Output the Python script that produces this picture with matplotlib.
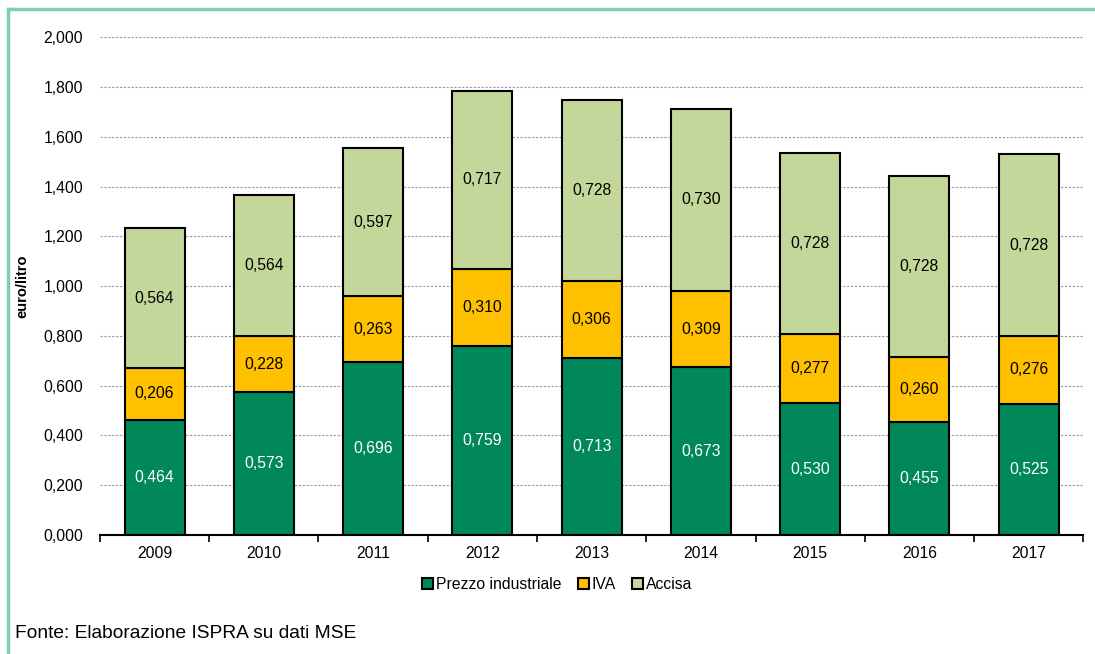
import matplotlib.pyplot as plt
import numpy as np
from matplotlib.lines import Line2D

plt.rcParams['font.family'] = ['Liberation Sans', 'DejaVu Sans']

anni = ["2009", "2010", "2011", "2012", "2013", "2014", "2015", "2016", "2017"]
prezzo = [0.464, 0.573, 0.696, 0.759, 0.713, 0.673, 0.530, 0.455, 0.525]
iva = [0.206, 0.228, 0.263, 0.310, 0.306, 0.309, 0.277, 0.260, 0.276]
accisa = [0.564, 0.564, 0.597, 0.717, 0.728, 0.730, 0.728, 0.728, 0.728]

col_prezzo = "#00875A"
col_iva = "#FFC000"
col_accisa = "#C4D79B"

fig = plt.figure(figsize=(10.95, 6.54), dpi=100)
ax = fig.add_axes([0.0913, 0.182, 0.898, 0.761])

x = np.arange(len(anni))
w = 0.55
prezzo = np.array(prezzo)
iva = np.array(iva)
accisa = np.array(accisa)

ax.bar(x, prezzo, w, color=col_prezzo, edgecolor="black", linewidth=1.5, label="Prezzo industriale", zorder=3)
ax.bar(x, iva, w, bottom=prezzo, color=col_iva, edgecolor="black", linewidth=1.5, label="IVA", zorder=3)
ax.bar(x, accisa, w, bottom=prezzo + iva, color=col_accisa, edgecolor="black", linewidth=1.5, label="Accisa", zorder=3)

def fmt(v):
    return f"{v:.3f}".replace(".", ",")

fs = 11.3
for i in range(len(anni)):
    ax.text(x[i], prezzo[i] / 2, fmt(prezzo[i]), ha="center", va="center", color="white", fontsize=fs, zorder=4)
    ax.text(x[i], prezzo[i] + iva[i] / 2, fmt(iva[i]), ha="center", va="center", color="black", fontsize=fs, zorder=4)
    ax.text(x[i], prezzo[i] + iva[i] + accisa[i] / 2, fmt(accisa[i]), ha="center", va="center", color="black", fontsize=fs, zorder=4)

ax.set_xlim(-0.5, len(anni) - 0.5)
ax.set_ylim(0, 2.0)
yt = np.arange(0, 2.01, 0.2)
ax.set_yticks(yt)
ax.set_yticklabels([fmt(v) for v in yt], fontsize=fs)
ax.set_xticks(x)
ax.set_xticklabels(anni, fontsize=fs)
ax.set_xticks(np.arange(-0.5, len(anni), 1), minor=True)
ax.tick_params(axis="x", which="major", length=0, pad=8)
ax.tick_params(axis="x", which="minor", length=5, width=1.2, direction="out")
ax.tick_params(axis="y", length=0, pad=12)

ax.grid(axis="y", linestyle=(0, (2, 1.5)), color="#999999", linewidth=0.8, zorder=0)
for s in ["top", "right", "left"]:
    ax.spines[s].set_visible(False)
ax.spines["bottom"].set_linewidth(1.5)
ax.spines["bottom"].set_zorder(5)

ax.set_ylabel("euro/litro", fontsize=10.5, fontweight="bold", labelpad=10)

ax.legend(loc="upper center", bbox_to_anchor=(0.465, -0.057), ncol=3, frameon=False, fontsize=fs,
          handlelength=0.7, handleheight=0.7, handletextpad=0.2, columnspacing=1.0)

fig.text(0.014, 0.032, "Fonte: Elaborazione ISPRA su dati MSE", fontsize=13.8,
         family=["Liberation Sans Narrow", "Liberation Sans", "DejaVu Sans"], va="center")

# cornice
fig.add_artist(Line2D([0.0075, 1.0], [0.9865, 0.9865], color="#7FCDB4", linewidth=2.5))
fig.add_artist(Line2D([0.0075, 0.0075], [0.0, 0.9865], color="#7FCDB4", linewidth=2.5))

fig.savefig("out.png", dpi=100)
